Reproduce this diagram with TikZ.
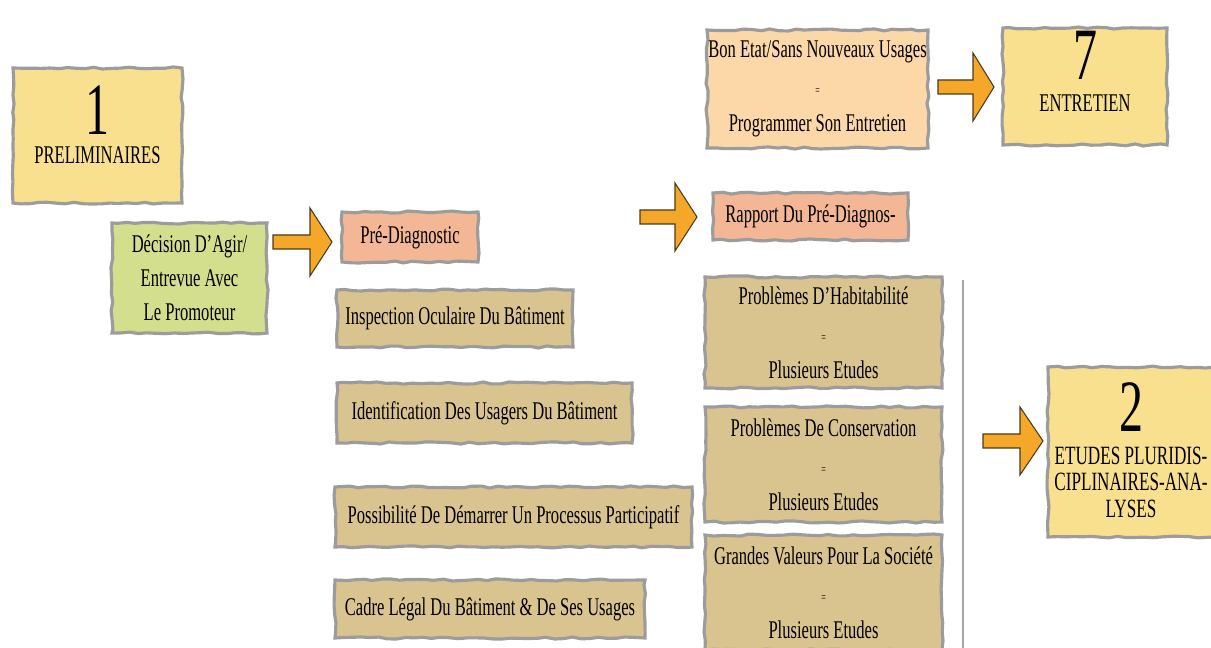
\documentclass[tikz,border=0pt]{standalone}
\usepackage{fontspec}
\setmainfont{Liberation Serif}[FakeStretch=0.65]
\usetikzlibrary{decorations.pathmorphing}
\definecolor{yel}{HTML}{F8E08E}
\definecolor{grn}{HTML}{D4DF8E}
\definecolor{sal}{HTML}{F4B795}
\definecolor{tan}{HTML}{D9C48F}
\definecolor{pch}{HTML}{FCD8A9}
\definecolor{arrfill}{HTML}{F5A72A}
\definecolor{arrline}{HTML}{4A3A1A}
\definecolor{brush}{HTML}{9C9C9C}
\tikzset{
  sz/.style 2 args={minimum width=#1*0.02cm, minimum height=#2*0.02cm},
  box/.style={draw=brush, line width=1.8pt, inner sep=0pt, align=center,
    decorate, decoration={random steps, segment length=5pt, amplitude=0.6pt},
    font=\fontsize{14.5}{19.3}\selectfont, text=black},
  three/.style={font=\fontsize{14.5}{21}\selectfont},
  lbl/.style={inner sep=0pt, anchor=base, text=black},
  bignum/.style={lbl, font=\fontsize{42}{42}\selectfont},
  captxt/.style={lbl, font=\fontsize{14.5}{15}\selectfont},
  arrsty/.style={fill=arrfill, draw=arrline, line width=0.6pt, line join=miter},
  sep/.style={draw=brush!90, line width=1.5pt}
}
\newcommand{\eqsm}{{\fontsize{7}{21}\selectfont =}}
\newcommand{\blockarr}[4]{\draw[arrsty] (#1,#4-7) -- (#2,#4-7) -- (#2,#4-34) -- (#3,#4) -- (#2,#4+34) -- (#2,#4+7) -- (#1,#4+7) -- cycle;}
\begin{document}
\begin{tikzpicture}[x=0.02cm, y=-0.02cm]
\useasboundingbox (0,0) rectangle (1211,648);
\clip (0,0) rectangle (1211,648);

% boxes
\node[box, fill=yel, sz={169}{135}] (n1) at (97.5,135.5) {};
\node[bignum] (n1num) at (97.5,135) {1};
\node[captxt] (n1t) at (97.5,164) {PRELIMINAIRES};

\node[box, fill=grn, sz={155}{110}] (dec) at (189.5,278)
  {Décision D'Agir/\\Entrevue Avec\\Le Promoteur};

\node[box, fill=sal, sz={136}{50}] (pre) at (410,237) {Pré-Diagnostic};
\node[box, fill=tan, sz={236}{57}] (insp) at (455,318.5) {Inspection Oculaire Du Bâtiment};
\node[box, fill=tan, sz={295}{60}] (ident) at (484.5,413) {Identification Des Usagers Du Bâtiment};
\node[box, fill=tan, sz={357}{60}] (poss) at (513.5,517) {Possibilité De Démarrer Un Processus Participatif};
\node[box, fill=tan, sz={310}{58}] (cadre) at (490,609) {Cadre Légal Du Bâtiment \& De Ses Usages};

\node[box, fill=sal, sz={195}{47}] (rap) at (810.5,216.5) {Rapport Du Pré-Diagnos-};

\node[box, three, fill=pch, sz={221}{118}] (bon) at (817.5,89)
  {Bon Etat/Sans Nouveaux Usages\\\eqsm\\Programmer Son Entretien};

\node[box, fill=yel, sz={164}{117}] (n7) at (1085,86.5) {};
\node[bignum] (n7num) at (1085,80) {7};
\node[captxt] (n7t) at (1085,112) {ENTRETIEN};

\node[box, three, fill=tan, sz={237}{111}] (hab) at (823.5,332.5)
  {Problèmes D'Habitabilité\\\eqsm\\Plusieurs Etudes};
\node[box, three, fill=tan, sz={237}{115}] (cons) at (823.5,464.5)
  {Problèmes De Conservation\\\eqsm\\Plusieurs Etudes};
\node[box, three, fill=tan, sz={237}{115}] (gv) at (823.5,592.5)
  {Grandes Valeurs Pour La Société\\\eqsm\\Plusieurs Etudes};

\node[box, fill=yel, sz={167}{170}] (n2) at (1131.5,452) {};
\node[bignum] (n2num) at (1131,432) {2};
\node[captxt, font=\fontsize{15}{15}\selectfont] (n2a) at (1131,465) {ETUDES PLURIDIS-};
\node[captxt, font=\fontsize{15}{15}\selectfont] (n2b) at (1131,491) {CIPLINAIRES-ANA-};
\node[captxt, font=\fontsize{15}{15}\selectfont] (n2c) at (1131,518) {LYSES};

% separator line
\coordinate (vt) at (963,280);
\coordinate (vb) at (963,648);
\draw[sep] (vt) -- (vb);

% block arrows
\blockarr{273}{310}{332}{242}
\blockarr{640}{675}{697}{217}
\blockarr{938}{973}{994}{87}
\blockarr{983}{1020}{1043}{441}
\end{tikzpicture}
\end{document}
